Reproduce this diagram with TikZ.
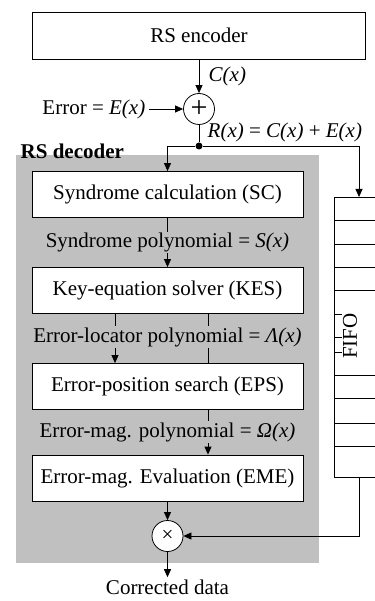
\documentclass[tikz,border=0pt]{standalone}
\usepackage{fontspec}
\setmainfont{Liberation Serif}
\usetikzlibrary{arrows.meta}
\definecolor{decgray}{RGB}{192,192,192}

\begin{document}
\begin{tikzpicture}[x=1pt, y=-1pt, line width=0.8pt,
                    font=\fontsize{21}{25}\selectfont,
                    >={Triangle[length=8pt,width=7pt]},
                    block/.style={draw, fill=white, minimum width=271pt, minimum height=46pt, inner sep=0pt},
                    op/.style={circle, draw, fill=white, minimum size=31pt, inner sep=0pt},
                    lbl/.style={fill=decgray, inner sep=1pt}]
                    \useasboundingbox (0,0) rectangle (374,601);
                    \fill[decgray] (16,155) rectangle (319,563);

                    \node[block, minimum width=333pt, minimum height=47pt] (enc) at (199,35.5) {RS encoder};
                    \node[op, font=\fontsize{30}{30}\selectfont] (sum) at (199,109) {+};
                    \node[anchor=east] (err) at (149,109) {Error = \textit{E(x)}};
                    \node[anchor=west] (cx) at (205,76) {\textit{C(x)}};
                    \node[circle, fill, inner sep=0pt, minimum size=7pt] (split) at (199,146) {};
                    \node[anchor=west] (rx) at (204,132) {\textit{R(x)} = \textit{C(x)} + \textit{E(x)}};
                    \node[anchor=west, font=\fontsize{21}{25}\selectfont\bfseries] (dec) at (17,151) {RS decoder};

                    \node[block] (sc) at (167.5,194.5) {Syndrome calculation (SC)};
                    \node[block] (kes) at (167.5,290.5) {Key-equation solver (KES)};
                    \node[block] (eps) at (167.5,386.5) {Error-position search (EPS)};
                    \node[block] (eme) at (167.5,478) {Error-mag. Evaluation (EME)};
                    \node[op] (mul) at (167.5,536) {×};
                    \node[inner sep=2pt] (out) at (167.5,587) {Corrected data};

                    % FIFO
                    \node[draw, minimum width=70pt, minimum height=280pt, inner sep=0pt] (fifo) at (369,337) {};
                    \foreach \y in {220,244,267,290,375,398,423,446} {
                        \draw (334,\y) -- (404,\y);
                    }
                    \foreach \y in {314,337,352} {
                        \draw (334,\y) -- (342,\y);
                    }
                    \node[rotate=90] (fifolbl) at (350,336) {FIFO};
                    \coordinate (fin) at (359,197);
                    \coordinate (fout) at (359,477);

                    \draw[->] (enc) -- (sum);
                    \draw[->] (err) -- (sum);
                    \draw (sum) -- (split);
                    \draw[->] (split) -| (sc);
                    \draw[->] (split) -| (fin);
                    \draw[->] (sc) -- node[lbl] (spoly) {Syndrome polynomial = \textit{S(x)}} (kes);
                    \draw[->] ([xshift=-52.5pt]kes.south) -- ([xshift=-52.5pt]eps.north);
                    \draw ([xshift=40.5pt]kes.south) -- ([xshift=40.5pt]eps.north);
                    \node[lbl] (lpoly) at (167.5,337) {Error-locator polynomial = \textit{Λ(x)}};
                    \draw[->] ([xshift=40.5pt]eps.south) -- ([xshift=40.5pt]eme.north);
                    \node[lbl] (opoly) at (167.5,432) {Error-mag. polynomial = \textit{Ω(x)}};
                    \draw[->] (eme) -- (mul);
                    \draw[->] (fout) |- (mul);
                    \draw[->] (mul) -- (out);
                \end{tikzpicture}
\end{document}
